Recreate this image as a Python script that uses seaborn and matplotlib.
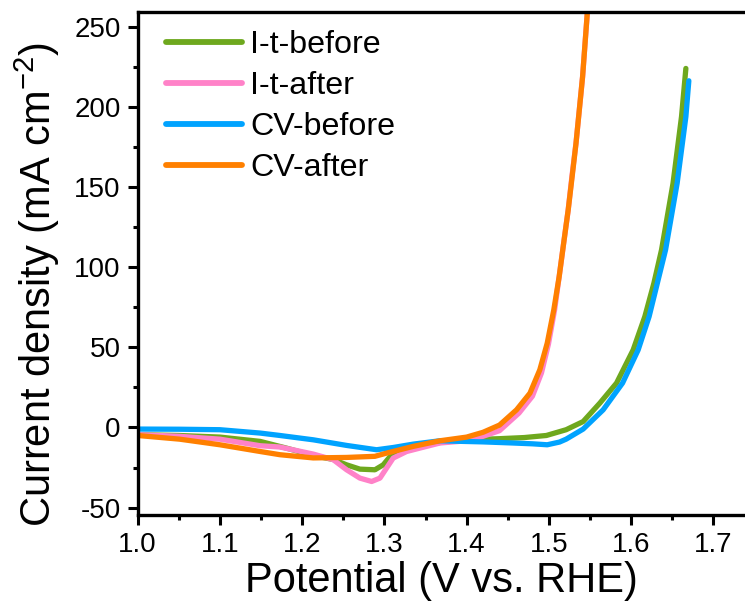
import pandas as pd
import seaborn as sns
import matplotlib.pyplot as plt
from matplotlib.ticker import MultipleLocator, AutoMinorLocator

# series (potential V vs RHE, current density mA cm-2)
it_before_x = [1.0, 1.05, 1.1, 1.149, 1.181, 1.2135, 1.2378, 1.254, 1.2702, 1.2885, 1.2986, 1.3088,
               1.3229, 1.335, 1.3593, 1.4, 1.44, 1.47, 1.497, 1.521, 1.5417, 1.562, 1.5823, 1.6025,
               1.6167, 1.6277, 1.637, 1.651, 1.6613, 1.6666]
it_before_y = [-4.5, -5.0, -6.0, -8.7, -12.9, -17.5, -20.0, -23.3, -26.0, -26.4, -23.3, -17.0,
               -13.9, -12.0, -9.8, -7.7, -7.0, -6.3, -5.0, -1.4, 3.7, 15.2, 27.7, 48.4,
               69.2, 90, 110.8, 152.4, 193.9, 224]

it_after_x = [1.0, 1.05, 1.1, 1.149, 1.173, 1.2135, 1.2378, 1.254, 1.2702, 1.2845, 1.2946, 1.3027,
              1.3107, 1.327, 1.3513, 1.3675, 1.4, 1.42, 1.44, 1.4637, 1.48, 1.491, 1.4995, 1.507,
              1.5125, 1.518, 1.5235, 1.528, 1.533, 1.537, 1.541, 1.544, 1.547, 1.55]
it_after_y = [-4.5, -5.5, -7.3, -11.4, -12.2, -16.6, -20.1, -26.4, -31.6, -33.7, -31.6, -25.3,
              -19.1, -15.0, -11.8, -9.7, -8.3, -5.5, -2.0, 9, 19.5, 34, 52, 73.4,
              94, 115, 135.7, 156.5, 177.3, 198, 218.8, 239.6, 260.4, 280]

cv_before_x = [1.0, 1.05, 1.1, 1.149, 1.173, 1.2135, 1.254, 1.2905, 1.3107, 1.335, 1.3675, 1.396,
               1.42, 1.4566, 1.48, 1.498, 1.513, 1.521, 1.5417, 1.566, 1.5896, 1.6086, 1.6219,
               1.6419, 1.656, 1.6666, 1.6702]
cv_before_y = [-1.0, -1.1, -1.4, -3.5, -5.0, -7.7, -11.2, -13.9, -12.5, -10.4, -8.3, -8.7,
               -9.0, -9.7, -10.2, -10.8, -9.1, -7.3, -1.0, 11, 27.7, 48.4, 69.2,
               110.8, 152.4, 193.9, 216.3]

cv_after_x = [1.0, 1.051, 1.1, 1.149, 1.173, 1.2135, 1.254, 1.2885, 1.3027, 1.335, 1.3675, 1.4,
              1.42, 1.44, 1.4607, 1.477, 1.489, 1.498, 1.506, 1.5125, 1.518, 1.5235, 1.5283,
              1.533, 1.537, 1.541, 1.544, 1.547, 1.55]
cv_after_y = [-5.0, -7.3, -10.8, -15.0, -17.0, -19.0, -18.7, -18.0, -16.0, -11.8, -8.3, -6.0,
              -3.0, 1.5, 11, 21.4, 36, 52.6, 73.4, 94, 115, 135.7, 156.5,
              177.3, 198, 218.8, 239.6, 260.4, 280]

labels = ["I-t-before", "I-t-after", "CV-before", "CV-after"]
colors = ["#6EA81E", "#FF82C8", "#00A3FF", "#FF8000"]

frames = []
for name, xs, ys in zip(labels,
                        [it_before_x, it_after_x, cv_before_x, cv_after_x],
                        [it_before_y, it_after_y, cv_before_y, cv_after_y]):
    frames.append(pd.DataFrame({"E": xs, "j": ys, "series": name}))
df = pd.concat(frames, ignore_index=True)

sns.set_style("ticks")
plt.rcParams["font.family"] = ["Liberation Sans", "DejaVu Sans"]
plt.rcParams["mathtext.default"] = "regular"
plt.rcParams["axes.unicode_minus"] = False
for k in ["text.color", "axes.labelcolor", "xtick.color", "ytick.color", "axes.edgecolor"]:
    plt.rcParams[k] = "black"

fig = plt.figure(figsize=(7.45, 6.07), dpi=100)
ax = fig.add_axes([0.1848, 0.1516, 0.8152, 0.8286])

sns.lineplot(data=df, x="E", y="j", hue="series", hue_order=labels,
             palette=dict(zip(labels, colors)), estimator=None, sort=False,
             linewidth=3.8, ax=ax)
for line in ax.get_lines():
    line.set_solid_capstyle("round")
    line.set_solid_joinstyle("round")

ax.set_xlim(1.0, 1.7385)
ax.set_ylim(-54.6, 259.2)
ax.xaxis.set_major_locator(MultipleLocator(0.1))
ax.yaxis.set_major_locator(MultipleLocator(50))
ax.xaxis.set_minor_locator(AutoMinorLocator(2))
ax.yaxis.set_minor_locator(AutoMinorLocator(2))

for s in ["left", "bottom", "top"]:
    ax.spines[s].set_linewidth(2.4)
    ax.spines[s].set_color("black")
ax.spines["right"].set_visible(False)
ax.tick_params(which="major", length=7.2, width=2.2, labelsize=20, pad=5,
               top=False, right=False, color="black")
ax.tick_params(which="minor", length=3.6, width=2.2, top=False, right=False, color="black")

ax.set_xlabel("Potential (V vs. RHE)", fontsize=30, labelpad=2)
ax.set_ylabel("Current density (mA cm$^{-2}$)", fontsize=30)
ax.yaxis.set_label_coords(-0.125, 0.458)

old = ax.get_legend()
handles = old.legend_handles
texts = [t.get_text() for t in old.get_texts()]
leg = ax.legend(handles, texts, loc="upper left", bbox_to_anchor=(0.026, 0.99),
                frameon=False, fontsize=23.2, handlelength=2.36, handletextpad=0.25,
                labelspacing=0.345, borderaxespad=0)
for h in leg.legend_handles:
    h.set_linewidth(4.2)
    h.set_solid_capstyle("round")

fig.savefig("out.png", dpi=100)
